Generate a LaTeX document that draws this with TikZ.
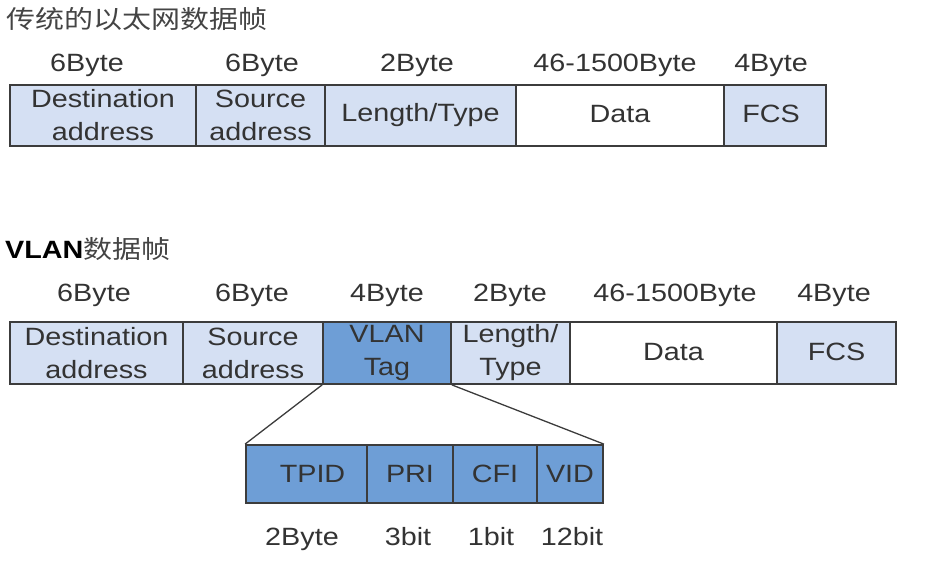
\documentclass[tikz,border=0pt]{standalone}
\usepackage{fontspec}
\setmainfont[FakeStretch=1.15]{Liberation Sans}
\newfontfamily\cjkfont[FakeStretch=1.16]{Noto Sans CJK SC}
\definecolor{lightfill}{HTML}{D5E0F3}
\definecolor{darkfill}{HTML}{6E9ED6}
\definecolor{bordc}{HTML}{3C3C3C}
\definecolor{txtc}{HTML}{333333}
\definecolor{titlec}{HTML}{444444}
\tikzset{
  field/.style={draw=bordc, line width=1.8pt, inner sep=0pt, text=txtc, align=center,
    font=\fontsize{25}{33}\selectfont},
  lab/.style={anchor=base, inner sep=0pt, text=txtc, font=\fontsize{25}{30}\selectfont},
  zoomline/.style={draw=bordc, line width=1.3pt},
}
\newcommand{\upby}[1]{\raisebox{3pt}{#1}}
\begin{document}
\begin{tikzpicture}[x=1pt,y=-1pt]
\useasboundingbox (0,0) rectangle (929,566);
% titles
\node[anchor=west, inner sep=0pt, text=titlec, font=\fontsize{25}{30}\selectfont\cjkfont] (t1) at (6,19) {传统的以太网数据帧};
\node[anchor=base west, inner sep=0pt, font=\fontsize{25}{30}\selectfont] (t2) at (5,258) {\textbf{VLAN}\textcolor{titlec}{\cjkfont 数据帧}};
% row 1 labels
\node[lab] (a1) at (87,71) {6Byte};
\node[lab] (a2) at (262,71) {6Byte};
\node[lab] (a3) at (417,71) {2Byte};
\node[lab] (a4) at (615,71) {46-1500Byte};
\node[lab] (a5) at (771,71) {4Byte};
% row 1 boxes
\node[field, fill=lightfill, minimum width=186pt, minimum height=61pt] (d1) at (103,115.5) {Destination\\address};
\node[field, fill=lightfill, minimum width=129pt, minimum height=61pt] (s1) at (260.5,115.5) {Source\\address};
\node[field, fill=lightfill, minimum width=191pt, minimum height=61pt] (l1) at (420.5,115.5) {Length/Type};
\node[field, fill=white, minimum width=208pt, minimum height=61pt] (x1) at (620,115.5) {\upby{Data}};
\node[field, fill=lightfill, minimum width=102pt, minimum height=61pt] (f1) at (775,115.5) {\upby{\hspace*{-8pt}FCS}};
% row 2 labels
\node[lab] (b1) at (94,301.5) {6Byte};
\node[lab] (b2) at (252,301.5) {6Byte};
\node[lab] (b3) at (387,301.5) {4Byte};
\node[lab] (b4) at (510,301.5) {2Byte};
\node[lab] (b5) at (675,301.5) {46-1500Byte};
\node[lab] (b6) at (834,301.5) {4Byte};
% row 2 boxes
\node[field, fill=lightfill, minimum width=173pt, minimum height=62pt] (d2) at (96.5,353) {Destination\\address};
\node[field, fill=lightfill, minimum width=140pt, minimum height=62pt] (s2) at (253,353) {Source\\address};
\node[field, fill=darkfill, minimum width=128pt, minimum height=62pt] (v2) at (387,353) {VLAN\\Tag};
\node[field, fill=lightfill, minimum width=119pt, minimum height=62pt] (l2) at (510.5,353) {Length/\\Type};
\node[field, fill=white, minimum width=207pt, minimum height=62pt] (x2) at (673.5,353) {\upby{Data}};
\node[field, fill=lightfill, minimum width=119pt, minimum height=62pt] (f2) at (836.5,353) {\upby{FCS}};
% tag breakdown
\node[field, fill=darkfill, minimum width=121pt, minimum height=58pt] (tp) at (306.5,474) {\hspace*{12pt}TPID};
\node[field, fill=darkfill, minimum width=86pt, minimum height=58pt] (pr) at (410,474) {PRI};
\node[field, fill=darkfill, minimum width=84pt, minimum height=58pt] (cf) at (495,474) {CFI};
\node[field, fill=darkfill, minimum width=66pt, minimum height=58pt] (vi) at (570,474) {VID};
\draw[zoomline] (v2.south west) -- (tp.north west);
\draw[zoomline] (v2.south east) -- (vi.north east);
% bottom labels
\node[lab] (c1) at (302,545) {2Byte};
\node[lab] (c2) at (408,545) {3bit};
\node[lab] (c3) at (491,545) {1bit};
\node[lab] (c4) at (572,545) {12bit};
\end{tikzpicture}
\end{document}
